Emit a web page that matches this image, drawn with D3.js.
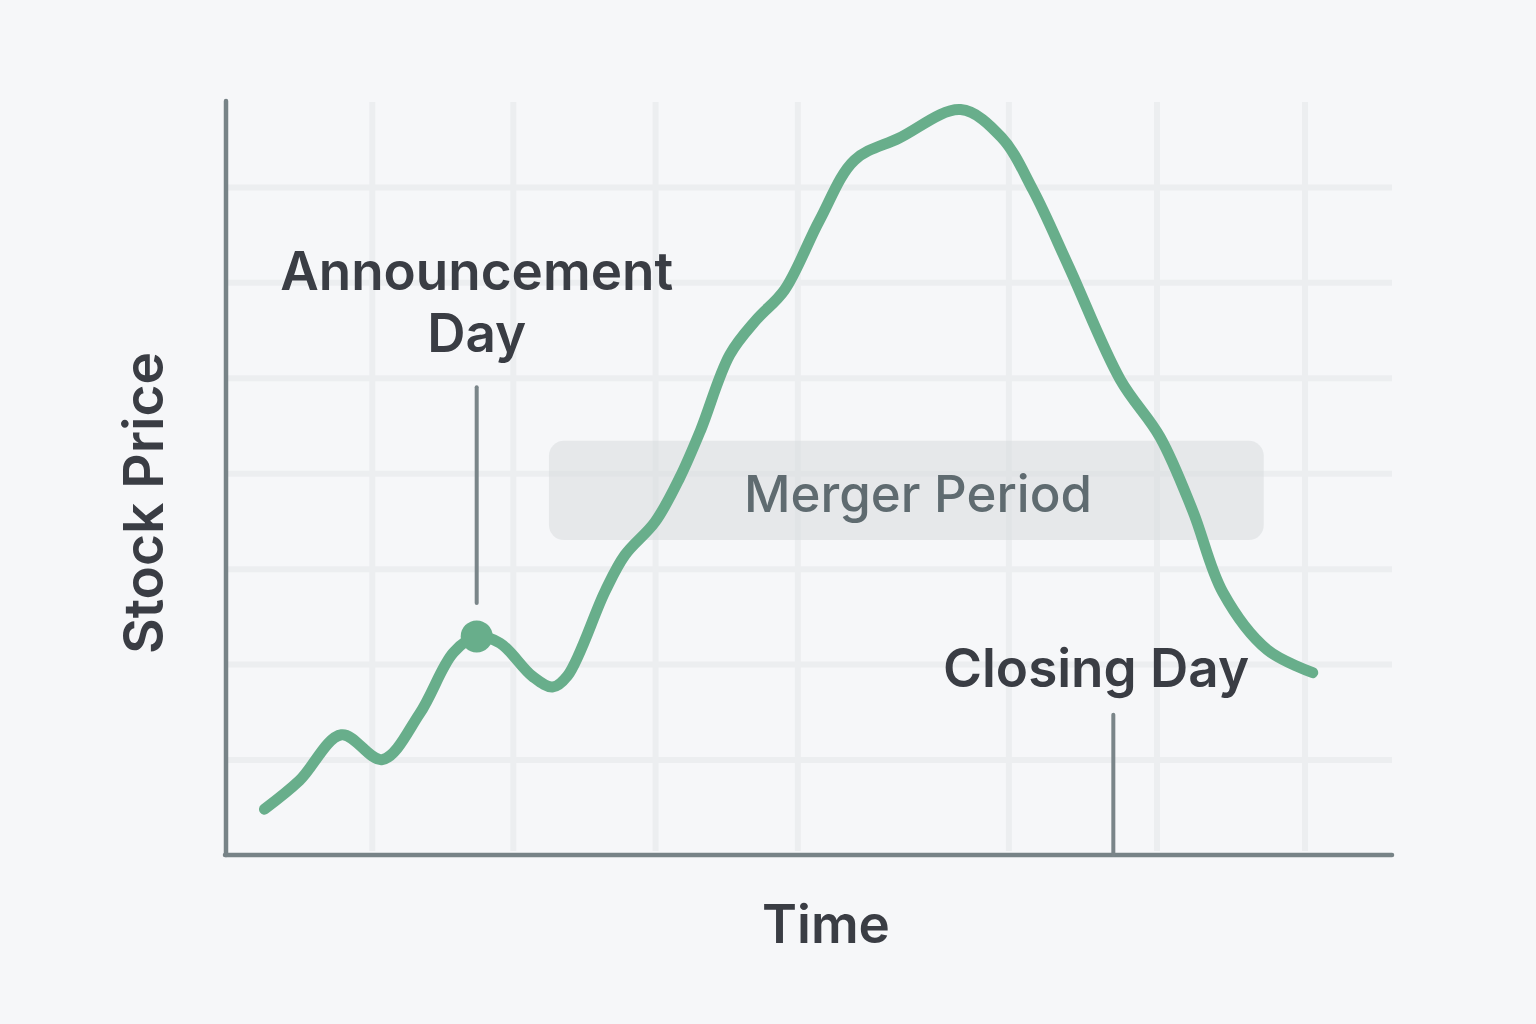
<!DOCTYPE html>
<html>
<head>
<meta charset="utf-8">
<script src="https://cdn.jsdelivr.net/npm/d3@7"></script>
<style>
  html, body { margin: 0; padding: 0; background: #f6f7f9; }
  text { font-family: Inter, "Noto Sans", sans-serif; }
</style>
</head>
<body>
<div id="chart"></div>
<script>
// time (0-100) and stock price (0-79)
var days = [3.3, 6.3, 9.9, 13.4, 16.6, 19.5, 21.5, 23.5, 26.3, 28.0, 29.3, 32.5, 34.2, 36.8,
    38.9, 40.7, 43.2, 45.5, 47.9, 50.9, 53.9, 57.7, 63.0, 66.5, 69.2, 72.3, 76.7, 80.1, 82.9,
    85.5, 89.3, 93.2];
var prices = [4.8, 7.8, 12.6, 10.0, 14.8, 21.2, 22.9, 22.2, 18.7, 17.6, 18.8, 27.6, 31.4, 34.9,
    39.5, 44.5, 52.4, 56.1, 59.2, 66.5, 72.8, 75.1, 78.1, 75.2, 69.7, 61.6, 49.8, 43.8, 36.1,
    27.5, 21.5, 19.1];

var xGrid = [12.5, 24.6, 36.8, 49.0, 67.1, 79.8, 92.5];
var yGrid = [10, 20, 30, 40, 50, 60, 70];

var announceDay = 21.5;
var closingDay = 76.1;
var mergerStart = 27.7, mergerEnd = 89.0;
var mergerLow = 33.0, mergerHigh = 43.4;

var margin = { top: 101, left: 226, bottom: 169, right: 144 },
    width = 1536 - margin.left - margin.right,
    height = 1024 - margin.top - margin.bottom;

var svg = d3.select('#chart').append('svg')
    .attr('width', 1536)
    .attr('height', 1024);

svg.append('rect')
    .attr('width', 1536)
    .attr('height', 1024)
    .attr('fill', '#f6f7f9');

var g = svg.append('g')
    .attr('transform', 'translate(' + margin.left + ', ' + margin.top + ')');

var x = d3.scaleLinear().domain([0, 100]).range([0, width]);
var y = d3.scaleLinear().domain([0, 79]).range([height, 0]);

var data = days.map((d, i) => ({ day: d, price: prices[i] }));

// gridlines
var xGridAxis = d3.axisBottom(x)
    .tickValues(xGrid)
    .tickSize(-(height - 5))
    .tickFormat('');
g.append('g')
    .attr('class', 'grid')
    .attr('transform', 'translate(0,' + (height - 4) + ')')
    .call(xGridAxis);

var yGridAxis = d3.axisLeft(y)
    .tickValues(yGrid)
    .tickSize(-width)
    .tickFormat('');
g.append('g')
    .attr('class', 'grid')
    .call(yGridAxis);

g.selectAll('.grid .domain').remove();
g.selectAll('.grid line')
    .attr('stroke', '#eceef0')
    .attr('stroke-width', 6);

// merger period box
g.append('rect')
    .attr('x', x(mergerStart))
    .attr('y', y(mergerHigh))
    .attr('width', x(mergerEnd) - x(mergerStart))
    .attr('height', y(mergerLow) - y(mergerHigh))
    .attr('rx', 15)
    .attr('fill', '#d9dcdf')
    .attr('opacity', 0.55);

// axes
g.append('line')
    .attr('x1', 0).attr('x2', 0)
    .attr('y1', y(0)).attr('y2', 0)
    .attr('stroke', '#778387')
    .attr('stroke-width', 4.5)
    .attr('stroke-linecap', 'round');

g.append('line')
    .attr('x1', -1).attr('x2', width)
    .attr('y1', y(0)).attr('y2', y(0))
    .attr('stroke', '#778387')
    .attr('stroke-width', 4.5)
    .attr('stroke-linecap', 'round');

// annotation ticks
g.append('line')
    .attr('x1', x(announceDay)).attr('x2', x(announceDay))
    .attr('y1', y(49)).attr('y2', y(26.4))
    .attr('stroke', '#7a8589')
    .attr('stroke-width', 4)
    .attr('stroke-linecap', 'round');

g.append('line')
    .attr('x1', x(closingDay)).attr('x2', x(closingDay))
    .attr('y1', y(14.7)).attr('y2', y(0))
    .attr('stroke', '#7a8589')
    .attr('stroke-width', 4)
    .attr('stroke-linecap', 'round');

// price line
var line = d3.line()
    .x(d => x(d.day))
    .y(d => y(d.price))
    .curve(d3.curveCatmullRom.alpha(0.5));

g.append('path')
    .datum(data)
    .attr('d', line)
    .attr('fill', 'none')
    .attr('stroke', '#68ae8b')
    .attr('stroke-width', 11)
    .attr('stroke-linecap', 'round')
    .attr('stroke-linejoin', 'round');

var announce = data.find(d => d.day === announceDay);
g.append('circle')
    .attr('cx', x(announce.day))
    .attr('cy', y(announce.price))
    .attr('r', 16)
    .attr('fill', '#68ae8b');

// labels
g.append('text')
    .attr('x', x(announceDay))
    .attr('y', 290 - margin.top)
    .attr('text-anchor', 'middle')
    .attr('font-size', 53)
    .attr('font-weight', 600)
    .attr('fill', '#3a3d44')
    .text('Announcement');

g.append('text')
    .attr('x', x(announceDay))
    .attr('y', 352 - margin.top)
    .attr('text-anchor', 'middle')
    .attr('font-size', 53)
    .attr('font-weight', 600)
    .attr('fill', '#3a3d44')
    .text('Day');

g.append('text')
    .attr('x', 1096 - margin.left)
    .attr('y', 687 - margin.top)
    .attr('text-anchor', 'middle')
    .attr('font-size', 53)
    .attr('font-weight', 600)
    .attr('fill', '#3a3d44')
    .text('Closing Day');

g.append('text')
    .attr('x', 918 - margin.left)
    .attr('y', 512 - margin.top)
    .attr('text-anchor', 'middle')
    .attr('font-size', 51)
    .attr('font-weight', 500)
    .attr('fill', '#5f6b70')
    .text('Merger Period');

// axis titles
svg.append('text')
    .attr('x', 826)
    .attr('y', 943)
    .attr('text-anchor', 'middle')
    .attr('font-size', 53)
    .attr('font-weight', 600)
    .attr('fill', '#3a3d44')
    .text('Time');

svg.append('text')
    .attr('transform', 'translate(163, 503) rotate(-90)')
    .attr('text-anchor', 'middle')
    .attr('font-size', 55)
    .attr('font-weight', 600)
    .attr('fill', '#3a3d44')
    .text('Stock Price');
</script>
</body>
</html>
